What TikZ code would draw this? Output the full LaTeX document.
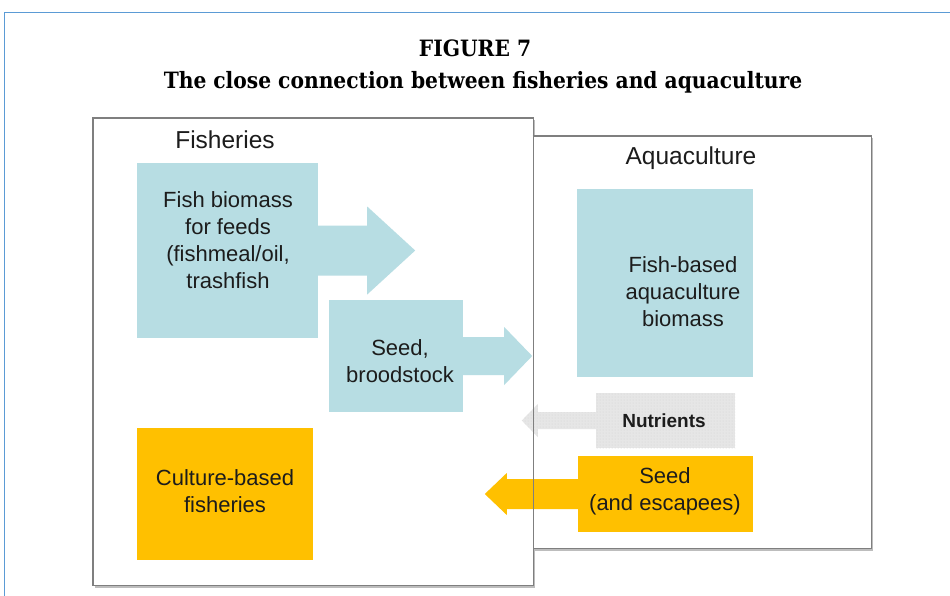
\documentclass[tikz,border=0pt]{standalone}
\usepackage{fontspec}
\setmainfont{Liberation Sans}
\newfontfamily\titlefont{DejaVu Serif Condensed}
\usetikzlibrary{patterns}
\definecolor{lblue}{HTML}{B7DDE3}
\definecolor{orng}{HTML}{FFC000}
\definecolor{frameblue}{HTML}{5B9BD5}
\definecolor{boxgray}{HTML}{7F7F7F}
\definecolor{shadowgray}{HTML}{BDBDBD}
\definecolor{txt}{HTML}{1C1C1C}
\definecolor{nutgray}{HTML}{E6E6E6}
\tikzset{
  titlestyle/.style={font=\titlefont\bfseries\fontsize{22.5}{26}\selectfont, inner sep=0pt, text=black},
  headlab/.style={font=\fontsize{24.5}{29}\selectfont, inner sep=0pt, text=txt},
  boxtext/.style={font=\fontsize{22}{27}\selectfont, align=center, inner sep=0pt, text=txt},
  bigbox/.style={draw=boxgray, line width=0.8pt, fill=white, inner sep=0pt},
  bluebox/.style={fill=lblue, inner sep=0pt},
  orangebox/.style={fill=orng, inner sep=0pt},
  nutbox/.style={fill=nutgray, inner sep=0pt}
}
\begin{document}
\begin{tikzpicture}[x=1pt,y=-1pt]
\useasboundingbox (0,0) rectangle (950,595);
\fill[white] (0,0) rectangle (950,595);
\draw[frameblue, line width=1.6pt] (4.5,600) -- (4.5,12.5) -- (955,12.5);

\node[titlestyle] (t1) at (475,48) {FIGURE 7};
\node[titlestyle] (t2) at (483,82) {The close connection between fisheries and aquaculture};

% shadows
\fill[shadowgray] (535,138) rectangle (873,551);
\fill[shadowgray] (95,120) rectangle (535,588);
\node[bigbox, minimum width=338, minimum height=412] (aq) at (702,342) {};
\node[bigbox, minimum width=440, minimum height=467] (fi) at (313,351.5) {};

\node[headlab] (fil) at (225,140) {Fisheries};
\node[headlab] (aql) at (691,158) {Aquaculture};

% boxes
\node[bluebox, minimum width=181, minimum height=175] (fb) at (227.5,250.5) {};
\node[bluebox, minimum width=134, minimum height=112] (sb) at (396,356) {};
\node[orangebox, minimum width=176, minimum height=132] (cb) at (225,494) {};
\node[bluebox, minimum width=176, minimum height=188] (ab) at (665,283) {};
\node[nutbox, minimum width=139, minimum height=55] (nb) at (665.5,420.5) {};
\node[orangebox, minimum width=175, minimum height=76] (eb) at (665.5,494) {};

\fill[pattern=dots, pattern color=gray!35] (nb.north west) rectangle (nb.south east);

% block arrows
\fill[lblue] (fb.east) ++(-1,-25) -- ++(50,0) -- ++(0,-19) -- ++(48,44) -- ++(-48,44) -- ++(0,-19) -- ++(-50,0) -- cycle;
\fill[lblue] (sb.east) ++(-1,-19) -- ++(42,0) -- ++(0,-10) -- ++(28,29) -- ++(-28,29) -- ++(0,-10) -- ++(-42,0) -- cycle;
\fill[nutgray] (nb.west) ++(1,-8.5) -- ++(-59,0) -- ++(0,-8) -- ++(-16,16.5) -- ++(16,16.5) -- ++(0,-8) -- ++(59,0) -- cycle;
\fill[pattern=dots, pattern color=gray!35] (nb.west) ++(1,-8.5) -- ++(-59,0) -- ++(0,-8) -- ++(-16,16.5) -- ++(16,16.5) -- ++(0,-8) -- ++(59,0) -- cycle;
\fill[orng] (eb.west) ++(1,-15) -- ++(-72,0) -- ++(0,-6) -- ++(-22,21) -- ++(22,21) -- ++(0,-6) -- ++(72,0) -- cycle;

% redraw box borders on top
\draw[boxgray, line width=0.8pt] (aq.north west) -- (aq.north east) -- (aq.south east) -- (aq.south west);
\draw[boxgray, line width=0.8pt] (fi.north west) rectangle (fi.south east);

% texts
\node[boxtext] (fbt) at (228,240.5) {Fish biomass\\for feeds\\(fishmeal/oil,\\trashfish};
\node[boxtext] (sbt) at (400,361.5) {Seed,\\broodstock};
\node[boxtext] (cbt) at (225,491.5) {Culture-based\\fisheries};
\node[boxtext] (abt) at (683,292) {Fish-based\\aquaculture\\biomass};
\node[boxtext, font=\bfseries\fontsize{19}{22}\selectfont] (nbt) at (664,421) {Nutrients};
\node[boxtext] (ebt) at (665,491.5) {Seed\\(and escapees)};
\end{tikzpicture}
\end{document}
